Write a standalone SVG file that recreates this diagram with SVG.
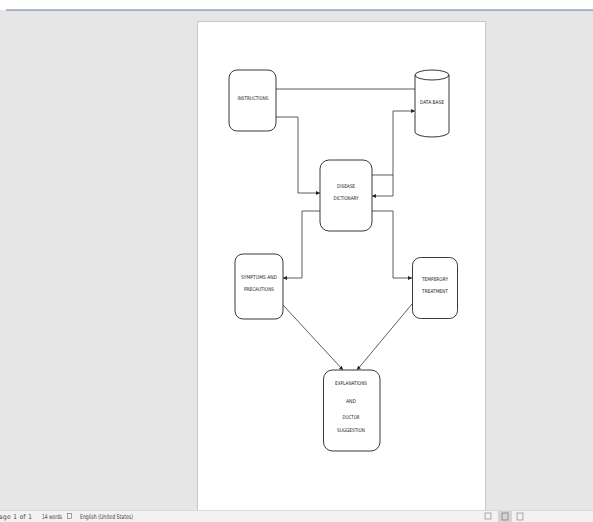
<svg xmlns="http://www.w3.org/2000/svg" width="593" height="522" viewBox="0 0 593 522">
<style>
.box{fill:#fff;stroke:#222;stroke-width:0.9}
.ln{fill:none;stroke:#333;stroke-width:0.8}
.t{font-family:"Liberation Sans Narrow","DejaVu Sans Condensed","Liberation Sans",sans-serif;font-size:5.2px;fill:#1a1a1a;text-anchor:middle}
.sb{font-family:"Liberation Sans Narrow","DejaVu Sans Condensed","Liberation Sans",sans-serif;font-size:6.5px;fill:#444}
</style>
<defs>
<marker id="ah" viewBox="0 0 6 6" refX="6" refY="3" markerWidth="4" markerHeight="4" orient="auto" markerUnits="userSpaceOnUse">
<path d="M0,0 L6,3 L0,6 Z" fill="#222"/>
</marker>
</defs>
<!-- app chrome -->
<rect x="0" y="0" width="593" height="522" fill="#e6e6e6"/>
<rect x="0" y="0" width="593" height="10" fill="#ffffff"/>
<line x1="6" y1="10" x2="593" y2="10" stroke="#5a7ab0" stroke-width="1"/>
<rect x="197.5" y="21.5" width="288" height="489" fill="#ffffff" stroke="#c9c9c9" stroke-width="1"/>
<rect x="0" y="511" width="593" height="11" fill="#f2f2f2"/>
<line x1="0" y1="510.5" x2="593" y2="510.5" stroke="#dcdcdc" stroke-width="1"/>
<text class="sb" x="-1" y="519" textLength="33" lengthAdjust="spacing">age 1 of 1</text>
<text class="sb" x="42" y="519" textLength="20" lengthAdjust="spacingAndGlyphs">14 words</text>
<rect x="67.5" y="513.5" width="4" height="5" fill="none" stroke="#666" stroke-width="0.6"/>
<text class="sb" x="80" y="519" textLength="53" lengthAdjust="spacingAndGlyphs">English (United States)</text>
<rect x="485" y="513" width="6" height="6" fill="none" stroke="#777" stroke-width="0.6"/>
<rect x="498" y="511" width="14" height="11" fill="#d4d4d4"/>
<rect x="502" y="513" width="6" height="7" fill="none" stroke="#666" stroke-width="0.6"/>
<rect x="517" y="513" width="6" height="7" fill="none" stroke="#777" stroke-width="0.6"/>

<!-- connectors -->
<g id="connectors">
<path class="ln" d="M276,89 H415"/>
<path class="ln" d="M276,117 H298 V193 H320" marker-end="url(#ah)"/>
<path class="ln" d="M372,175 H393 V111 H415" marker-end="url(#ah)"/>
<path class="ln" d="M393,175 V196 H372" marker-end="url(#ah)"/>
<path class="ln" d="M320,211 H302 V278 H283" marker-end="url(#ah)"/>
<path class="ln" d="M372,211 H393 V278 H412" marker-end="url(#ah)"/>
<path class="ln" d="M283,305 L343,370" marker-end="url(#ah)"/>
<path class="ln" d="M412,304 L357,370" marker-end="url(#ah)"/>
</g>

<g id="instructions">
<rect class="box" x="229" y="70" width="47" height="61" rx="8"/>
<text class="t" x="253" y="99.5" textLength="31" lengthAdjust="spacingAndGlyphs">INSTRUCTIONS</text>
</g>
<g id="database">
<path class="box" d="M415,75 A17,5 0 0,1 449,75 V132 A17,5 0 0,1 415,132 Z"/>
<path class="ln" d="M415,75 A17,5 0 0,0 449,75" style="stroke:#222;stroke-width:0.9"/>
<text class="t" x="432" y="103.5" textLength="24" lengthAdjust="spacingAndGlyphs">DATA BASE</text>
</g>
<g id="disease-dictionary">
<rect class="box" x="320" y="160" width="52" height="71" rx="9"/>
<text class="t" x="346" y="188" textLength="18" lengthAdjust="spacingAndGlyphs">DISEASE</text>
<text class="t" x="346" y="199.5" textLength="25" lengthAdjust="spacingAndGlyphs">DICTIONARY</text>
</g>
<g id="symptoms">
<rect class="box" x="235" y="254" width="48" height="65" rx="8"/>
<text class="t" x="259" y="279" textLength="36" lengthAdjust="spacingAndGlyphs">SYMPTOMS AND</text>
<text class="t" x="259" y="291" textLength="30" lengthAdjust="spacingAndGlyphs">PRECAUTIONS</text>
</g>
<g id="temperory">
<rect class="box" x="412.5" y="257.5" width="45" height="61" rx="8"/>
<text class="t" x="435" y="281" textLength="26" lengthAdjust="spacingAndGlyphs">TEMPERORY</text>
<text class="t" x="435" y="292.5" textLength="26" lengthAdjust="spacingAndGlyphs">TREATMENT</text>
</g>
<g id="explanations">
<rect class="box" x="323.5" y="370" width="56.5" height="81" rx="9"/>
<text class="t" x="351" y="385" textLength="32" lengthAdjust="spacingAndGlyphs">EXPLANATIONS</text>
<text class="t" x="351" y="402.5" textLength="10" lengthAdjust="spacingAndGlyphs">AND</text>
<text class="t" x="351" y="419" textLength="17" lengthAdjust="spacingAndGlyphs">DOCTOR</text>
<text class="t" x="351" y="431.5" textLength="28" lengthAdjust="spacingAndGlyphs">SUGGESTION</text>
</g>
</svg>
